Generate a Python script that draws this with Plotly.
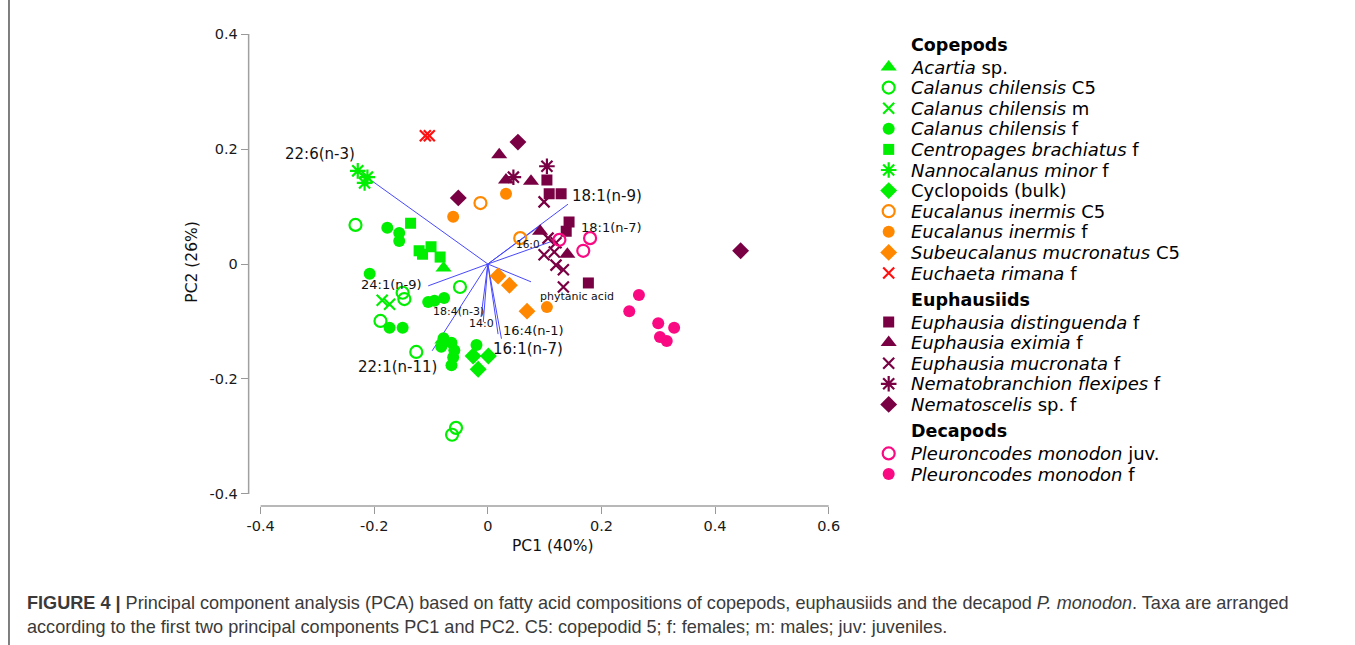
import plotly.graph_objects as go

# ---------------- data (PC1, PC2 scores) ----------------
acartia_x = [-0.078, -0.080]
acartia_y = [-0.007, -0.132]
cal_c5_x = [-0.233, -0.150, -0.147, -0.189, -0.049, -0.126, -0.056, -0.063]
cal_c5_y = [0.068, -0.050, -0.061, -0.099, -0.040, -0.153, -0.285, -0.297]
cal_m_x = [-0.186, -0.173]
cal_m_y = [-0.063, -0.070]
cal_f_x = [-0.177, -0.156, -0.156, -0.208, -0.173, -0.150, -0.105, -0.094, -0.077,
           -0.078, -0.082, -0.064, -0.059, -0.061, -0.064, -0.020]
cal_f_y = [0.063, 0.054, 0.040, -0.017, -0.111, -0.111, -0.066, -0.064, -0.059,
           -0.129, -0.144, -0.137, -0.150, -0.162, -0.176, -0.141]
centro_x = [-0.136, -0.121, -0.115, -0.100, -0.084]
centro_y = [0.071, 0.023, 0.017, 0.030, 0.012]
nanno_x = [-0.229, -0.212, -0.217]
nanno_y = [0.162, 0.151, 0.141]
cyclo_x = [-0.026, 0.001, -0.017]
cyclo_y = [-0.160, -0.160, -0.183]
euc_c5_x = [-0.013, 0.057]
euc_c5_y = [0.106, 0.045]
euc_f_x = [0.032, -0.061, 0.104]
euc_f_y = [0.122, 0.082, -0.075]
subeu_x = [0.018, 0.038, 0.069]
subeu_y = [-0.021, -0.037, -0.082]
eucha_x = [-0.110, -0.103]
eucha_y = [0.223, 0.223]
edist_x = [0.104, 0.108, 0.129, 0.143, 0.138, 0.177]
edist_y = [0.146, 0.122, 0.122, 0.073, 0.057, -0.033]
exim_x = [0.020, 0.032, 0.076, 0.092, 0.140]
exim_y = [0.190, 0.146, 0.144, 0.057, 0.017]
emucr_x = [0.099, 0.106, 0.120, 0.099, 0.117, 0.120, 0.133, 0.133]
emucr_y = [0.108, 0.045, 0.037, 0.016, 0.021, -0.002, -0.010, -0.040]
nflex_x = [0.104, 0.045]
nflex_y = [0.170, 0.151]
nemat_x = [0.053, -0.052, 0.445]
nemat_y = [0.212, 0.115, 0.023]
pmon_juv_x = [0.126, 0.180, 0.168]
pmon_juv_y = [0.042, 0.045, 0.023]
pmon_f_x = [0.266, 0.249, 0.300, 0.328, 0.303, 0.315]
pmon_f_y = [-0.054, -0.082, -0.103, -0.111, -0.127, -0.134]

# fatty acid loading vectors (end points) and label positions
fa_names = ["22:6(n-3)", "18:1(n-9)", "18:1(n-7)", "16:0", "phytanic acid", "24:1(n-9)",
            "18:4(n-3)", "14:0", "16:4(n-1)", "16:1(n-7)", "22:1(n-11)"]
fa_x = [-0.223, 0.141, 0.094, 0.120, 0.076, -0.105, -0.012, -0.008, 0.018, 0.024, -0.098]
fa_y = [0.158, 0.104, 0.068, 0.042, -0.031, -0.038, -0.092, -0.101, -0.122, -0.130, -0.151]
fa_lab_x = [-0.296, 0.210, 0.217, 0.071, 0.157, -0.170, -0.052, -0.012, 0.080, 0.071, -0.159]
fa_lab_y = [0.191, 0.118, 0.063, 0.035, -0.057, -0.035, -0.082, -0.103, -0.115, -0.148, -0.179]
fa_lab_size = [15, 15, 13, 10.5, 11, 13, 11, 11, 13, 15, 15]

x_ticks = [-0.4, -0.2, 0, 0.2, 0.4, 0.6]
x_ticktext = ["-0.4", "-0.2", "0", "0.2", "0.4", "0.6"]
y_ticks = [-0.4, -0.2, 0, 0.2, 0.4]
y_ticktext = ["-0.4", "-0.2", "0", "0.2", "0.4"]

# ---------------- styles ----------------
GREEN = "#00ee00"
ORANGE = "#ff8800"
RED = "#ff1010"
MAROON = "#7a0044"
PINK = "#fa0a82"

def sty(symbol, color, size=12, lw=0):
    if symbol.endswith("open") or symbol in ("x-thin", "asterisk"):
        return dict(symbol=symbol, size=size, color=color,
                    line=dict(color=color, width=lw or 2.2))
    return dict(symbol=symbol, size=size, color=color, line=dict(width=0))

series = [
    ("header", "Copepods", None, None, None),
    ("item", "<i>Acartia</i> sp.", acartia_x, acartia_y, sty("triangle-up", GREEN, 14)),
    ("item", "<i>Calanus chilensis</i> C5", cal_c5_x, cal_c5_y, sty("circle-open", GREEN, 12)),
    ("item", "<i>Calanus chilensis</i> m", cal_m_x, cal_m_y, sty("x-thin", GREEN, 11)),
    ("item", "<i>Calanus chilensis</i> f", cal_f_x, cal_f_y, sty("circle", GREEN, 12)),
    ("item", "<i>Centropages brachiatus</i> f", centro_x, centro_y, sty("square", GREEN, 11)),
    ("item", "<i>Nannocalanus minor</i> f", nanno_x, nanno_y, sty("asterisk", GREEN, 13)),
    ("item", "Cyclopoids (bulk)", cyclo_x, cyclo_y, sty("diamond", GREEN, 13)),
    ("item", "<i>Eucalanus inermis</i> C5", euc_c5_x, euc_c5_y, sty("circle-open", ORANGE, 12)),
    ("item", "<i>Eucalanus inermis</i> f", euc_f_x, euc_f_y, sty("circle", ORANGE, 12)),
    ("item", "<i>Subeucalanus mucronatus</i> C5", subeu_x, subeu_y, sty("diamond", ORANGE, 13)),
    ("item", "<i>Euchaeta rimana</i> f", eucha_x, eucha_y, sty("x-thin", RED, 11)),
    ("header", "Euphausiids", None, None, None),
    ("item", "<i>Euphausia distinguenda</i> f", edist_x, edist_y, sty("square", MAROON, 11)),
    ("item", "<i>Euphausia eximia</i> f", exim_x, exim_y, sty("triangle-up", MAROON, 14)),
    ("item", "<i>Euphausia mucronata</i> f", emucr_x, emucr_y, sty("x-thin", MAROON, 11)),
    ("item", "<i>Nematobranchion flexipes</i> f", nflex_x, nflex_y, sty("asterisk", MAROON, 13)),
    ("item", "<i>Nematoscelis</i> sp. f", nemat_x, nemat_y, sty("diamond", MAROON, 13)),
    ("header", "Decapods", None, None, None),
    ("item", "<i>Pleuroncodes monodon</i> juv.", pmon_juv_x, pmon_juv_y, sty("circle-open", PINK, 12)),
    ("item", "<i>Pleuroncodes monodon</i> f", pmon_f_x, pmon_f_y, sty("circle", PINK, 12)),
]

W, H = 1355, 645
PX0, PX1, PY0, PY1 = 247, 840, 22, 506          # main plot area in pixels
X_RANGE = [-0.4211, 0.6213]
Y_RANGE = [-0.4209, 0.4209]
FONT = "DejaVu Sans"

fig = go.Figure()

# loading vectors
for nx, ny in zip(fa_x, fa_y):
    fig.add_trace(go.Scatter(x=[0, nx], y=[0, ny], mode="lines",
                             line=dict(color="#4848ff", width=1),
                             hoverinfo="skip", showlegend=False))

# scores
for kind, name, xs, ys, mk in series:
    if kind != "item":
        continue
    fig.add_trace(go.Scatter(x=xs, y=ys, mode="markers", marker=mk, name=name,
                             showlegend=False))

# vector labels
for name, lx, ly, fs in zip(fa_names, fa_lab_x, fa_lab_y, fa_lab_size):
    fig.add_annotation(x=lx, y=ly, xref="x", yref="y", text=name, showarrow=False,
                       font=dict(family=FONT, size=fs, color="#111"))

# ---------- custom legend on a pixel coordinate overlay ----------
LEG_MX, LEG_TX = 888, 908
y = 45
prev = None
leg_rows = []
for kind, name, xs, ys, mk in series:
    if prev is not None:
        if kind == "header":
            y += 27
        elif prev == "header":
            y += 22
        else:
            y += 20.6
    leg_rows.append((kind, name, mk, y))
    prev = kind

for kind, name, mk, ry in leg_rows:
    if kind == "header":
        fig.add_annotation(x=LEG_TX, y=ry, xref="x2", yref="y2", text="<b>%s</b>" % name,
                           showarrow=False, xanchor="left", yanchor="middle",
                           font=dict(family=FONT, size=17.5, color="#000"))
    else:
        fig.add_trace(go.Scatter(x=[LEG_MX], y=[ry], xaxis="x2", yaxis="y2",
                                 mode="markers", marker=mk, showlegend=False,
                                 hoverinfo="skip"))
        fig.add_annotation(x=LEG_TX, y=ry, xref="x2", yref="y2", text=name,
                           showarrow=False, xanchor="left", yanchor="middle",
                           font=dict(family=FONT, size=18, color="#000"))

# axis titles
fig.add_annotation(x=552, y=546, xref="x2", yref="y2", text="PC1 (40%)", showarrow=False,
                   font=dict(family=FONT, size=15.5, color="#111"))
fig.add_annotation(x=190, y=262, xref="x2", yref="y2", text="PC2 (26%)", showarrow=False,
                   textangle=-90, font=dict(family=FONT, size=15.5, color="#111"))

# caption
CAP = "Liberation Sans"
fig.add_annotation(x=23, y=603, xref="x2", yref="y2", xanchor="left", yanchor="middle",
                   showarrow=False,
                   text="<b>FIGURE 4 |</b> Principal component analysis (PCA) based on fatty acid "
                        "compositions of copepods, euphausiids and the decapod <i>P. monodon</i>. "
                        "Taxa are arranged",
                   font=dict(family=CAP, size=18.1, color="#3a3a3a"))
fig.add_annotation(x=23, y=627, xref="x2", yref="y2", xanchor="left", yanchor="middle",
                   showarrow=False,
                   text="according to the first two principal components PC1 and PC2. C5: copepodid 5; "
                        "f: females; m: males; juv: juveniles.",
                   font=dict(family=CAP, size=18.1, color="#3a3a3a"))

# axis lines (range-frame style)
fig.add_shape(type="line", xref="x", yref="y domain", x0=-0.4, x1=0.6, y0=0, y1=0,
              line=dict(color="#a0a0a0", width=1.5))
fig.add_shape(type="line", xref="x domain", yref="y", x0=0, x1=0, y0=-0.4, y1=0.4,
              line=dict(color="#a0a0a0", width=1.5))
# left frame line
fig.add_shape(type="line", xref="x2", yref="y2", x0=7, x1=7, y0=0, y1=645,
              line=dict(color="#555", width=1.5))

fig.update_layout(
    width=W, height=H, margin=dict(l=0, r=0, t=0, b=0),
    paper_bgcolor="white", plot_bgcolor="rgba(0,0,0,0)",
    showlegend=False,
    xaxis=dict(domain=[PX0 / W, PX1 / W], range=X_RANGE, showgrid=False, zeroline=False,
               showline=False, ticks="outside", ticklen=7, tickwidth=1.2, tickcolor="#999",
               tickvals=x_ticks, ticktext=x_ticktext,
               tickfont=dict(family=FONT, size=14.5, color="#1a1a1a")),
    yaxis=dict(domain=[1 - PY1 / H, 1 - PY0 / H], range=Y_RANGE, showgrid=False,
               zeroline=False, showline=False, ticks="outside", ticklen=7, tickwidth=1.2,
               tickcolor="#999", tickvals=y_ticks, ticktext=y_ticktext,
               tickfont=dict(family=FONT, size=14.5, color="#1a1a1a")),
    xaxis2=dict(domain=[0, 1], range=[0, W], visible=False, anchor="y2"),
    yaxis2=dict(domain=[0, 1], range=[H, 0], visible=False, anchor="x2"),
)

fig.write_html("out.html", config={"displayModeBar": False},
               post_script="document.body.style.margin='0px';")
